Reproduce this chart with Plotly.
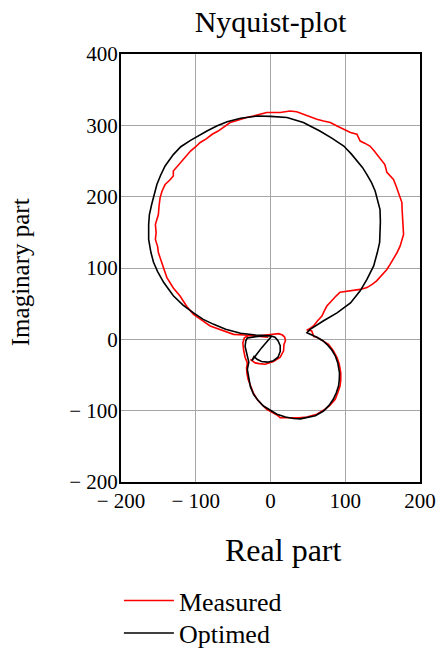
import plotly.graph_objects as go

# Optimed (black) curve: real and imaginary parts
opt_re = [0, -20, -40, -60, -76, -90, -103, -117, -130, -143, -151, -156.5, -160, -163, -163, -162,
          -159, -156, -152, -147, -141, -130, -120, -107, -96, -85, -72, -58, -40, -18, 0, 22, 44, 66,
          82, 98, 108, 116, 123, 129, 135, 140, 144, 146.5, 147, 147, 146, 143, 138, 129, 120, 107,
          89, 71, 53, 48.7, 56, 62, 70, 75.4, 82, 86.6, 90, 92.3, 92, 91, 88, 84, 78, 71, 60, 48.7,
          40, 30.8, 20, 8.6, 0, -9.4, -17, -22.7, -27, -29, -31, -29, -32, -34, -33, -31, -15, 0,
          6, 10, 13, 13, 10, 4, -4, -12, -18, -22, -25, -12, 2]
opt_im = [5, 6, 8.5, 14, 21, 28, 37, 48, 61, 80, 95, 108, 122, 140, 161, 175,
          189, 203, 217, 230, 243, 259, 270, 279, 286, 292, 299, 305, 310, 313, 312.5, 311, 304, 292,
          282, 271, 260, 250, 241, 231, 220, 208, 194, 182, 165, 147, 136, 122, 103, 84, 68, 51,
          37, 26, 14, 9.4, 6, 3, -2, -7, -15, -23, -33, -47, -57, -65.5, -75, -84, -93, -100.5, -107, -110,
          -111.5, -111, -109, -105, -100, -93.5, -85, -77, -66, -56, -42, -32, -20, -10, -2, 2, 4.5, 5,
          3, -2, -9, -17, -25, -30, -32, -31, -28, -24, -30, -12, 5]

# Measured (red) curve: real and imaginary parts
meas_re = [-3, -20, -35, -49.5, -65, -80.7, -92, -103, -112, -121, -130, -138.6, -142, -145, -148, -150,
           -151, -154, -153, -154, -152, -150, -149, -147.6, -145, -141, -135, -130, -130, -124, -118.5,
           -112, -107, -100, -94, -86, -78, -70, -63, -54, -47, -40.5, -32, -23, -14, -5, 4, 13, 26, 35,
           44, 53, 62, 71, 80, 89, 98, 107, 115.6, 120, 126, 133, 138, 142, 148, 153, 155.7, 160, 164.5,
           168, 171, 175.8, 176, 176, 177, 178, 176, 173.5, 169, 164.5, 160, 155.7, 149, 142, 136, 129,
           120, 107, 93, 88, 84, 78, 75.4, 72, 68.8, 63, 57.5, 51, 48.5, 55, 58, 62, 70, 77.6, 84, 89,
           92, 94, 94, 93, 90, 86.6, 80, 73, 62, 48.7, 38, 26, 13, 8.6, 0, -5, -12, -18, -23, -27, -30,
           -31.6, -32, -31, -34, -36, -37, -35, -30, -15, 0, 6, 11, 16, 19, 20, 18, 17.5, 13, 4, -7, -15,
           -20.5, -27]
meas_im = [3, 5, 6, 7, 13, 18.7, 27, 35, 46, 60.7, 72, 86.5, 97, 107.6, 115, 121.6,
           130, 140, 150, 161, 168, 175, 188, 199, 208, 217, 223, 229, 236, 243, 250,
           257, 264, 270, 276, 281, 287.5, 292, 297, 304, 306, 308.6, 311, 313, 315, 318, 318, 318, 320, 319,
           315.6, 312, 308.5, 306, 304, 299, 294.5, 290, 287.5, 278, 275, 271, 265, 259.5, 252, 245, 234, 229, 224,
           215, 205.7, 191.7, 183, 175, 165, 147, 139, 131, 121, 112, 105, 98, 90, 82, 77, 72.5,
           70, 68, 66, 61, 56, 50, 46.7, 40, 32.7, 26, 18.7, 14, 13, 12, 4, 3, -2, -7, -16, -25.7,
           -35, -47, -57, -65.5, -75, -84, -92, -98, -105, -109, -110, -110, -110, -106, -101, -98, -91, -84, -75, -65.5, -56,
           -47, -40, -33, -25, -15, -5, 2, 5, 5, 7, 8, 8, 6, 3, -2, -7, -16, -25, -31, -35, -34,
           -33, -28]

x_tickvals = [-200, -100, 0, 100, 200]
x_ticktext = ["\u2212 200", "\u2212 100", "0", "100", "200"]
y_tickvals = [-200, -100, 0, 100, 200, 300, 400]
y_ticktext = ["\u2212 200", "\u2212 100", "0", "100", "200", "300", "400"]

SERIF = "Liberation Serif, Times New Roman, serif"

fig = go.Figure()
fig.add_trace(go.Scatter(x=meas_re, y=meas_im, mode="lines", name="Measured",
                         line=dict(color="#ff0000", width=1.6), legend="legend"))
fig.add_trace(go.Scatter(x=opt_re, y=opt_im, mode="lines", name="Optimed",
                         line=dict(color="#000000", width=1.6), legend="legend2"))

axis_common = dict(showgrid=True, gridcolor="#a6a6a6", gridwidth=1, showline=True,
                   linecolor="#000000", linewidth=2, mirror=True, zeroline=False,
                   ticks="", tickfont=dict(family=SERIF, size=21, color="#000000"))

legend_common = dict(x=-0.007, xanchor="left", yanchor="middle", yref="paper",
                     font=dict(family=SERIF, size=26, color="#000000"), itemwidth=50,
                     bgcolor="rgba(0,0,0,0)", tracegroupgap=0)

fig.update_layout(
    width=440, height=648,
    margin=dict(l=121, r=20, t=54, b=166, autoexpand=False),
    paper_bgcolor="white", plot_bgcolor="white",
    font=dict(family=SERIF, color="#000000"),
    title=dict(text="Nyquist-plot", font=dict(family=SERIF, size=30, color="#000000"),
               x=0.5, xref="paper", xanchor="center", y=1 - 21 / 648, yref="container", yanchor="middle"),
    xaxis=dict(range=[-200, 200], tickvals=x_tickvals, ticktext=x_ticktext,
               ticklabelstandoff=-1, **axis_common),
    yaxis=dict(range=[-200, 400], tickvals=y_tickvals, ticktext=y_ticktext,
               ticklabelstandoff=-3, **axis_common),
    showlegend=True,
    legend=dict(y=-0.277, **legend_common),
    legend2=dict(y=-0.353, **legend_common),
    annotations=[
        dict(text="Real part", x=0.542, y=-0.159, xref="paper", yref="paper",
             xanchor="center", yanchor="middle", showarrow=False,
             font=dict(family=SERIF, size=32, color="#000000")),
        dict(text="Imaginary part", x=-0.338, y=0.49, xref="paper", yref="paper",
             xanchor="center", yanchor="middle", showarrow=False, textangle=-90,
             font=dict(family=SERIF, size=25, color="#000000")),
    ],
)

fig.write_html("out.html", config={"displayModeBar": False},
               post_script="document.body.style.margin='0';")
